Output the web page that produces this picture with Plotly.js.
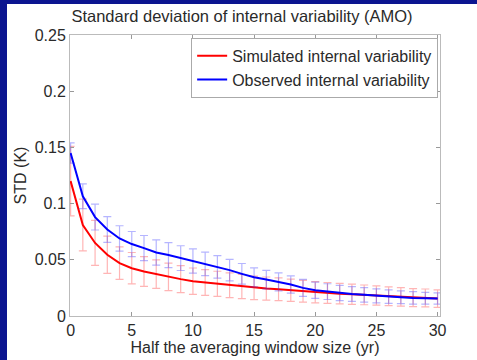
<!DOCTYPE html>
<html>
<head>
<meta charset="utf-8">
<script src="https://cdn.plot.ly/plotly-3.0.1.min.js"></script>
<style>
html,body{margin:0;padding:0;background:#0b1590;width:477px;height:360px;overflow:hidden;}
#chart{position:absolute;left:7px;top:4px;width:470px;height:356px;background:#fff;}
</style>
</head>
<body>
<div id="chart"></div>
<script>
var windowSize = [0,1,2,3,4,5,6,7,8,9,10,11,12,13,14,15,16,17,18,19,20,21,22,23,24,25,26,27,28,29,30];
var simulatedStd = [0.120,0.081,0.065,0.0545,0.047,0.0425,0.0396,0.0372,0.0348,0.0328,0.031,0.0298,0.0286,0.0274,0.0262,0.025,0.0244,0.0238,0.0229,0.022,0.0211,0.0205,0.0199,0.0193,0.0188,0.0182,0.0176,0.017,0.0164,0.0161,0.0155];
var simulatedErr = [0.031,0.023,0.020,0.0165,0.0145,0.014,0.0133,0.0127,0.0123,0.012,0.0117,0.0114,0.0112,0.011,0.0107,0.0105,0.0103,0.0101,0.0099,0.0097,0.0095,0.0093,0.0091,0.009,0.0088,0.0086,0.0084,0.0082,0.008,0.0079,0.0078];
var observedStd = [0.145,0.1065,0.088,0.077,0.069,0.064,0.0604,0.0565,0.0542,0.0515,0.049,0.0464,0.0437,0.0408,0.0375,0.0344,0.0324,0.0304,0.028,0.025,0.0229,0.0217,0.0205,0.0196,0.0188,0.0179,0.0173,0.0167,0.0161,0.0158,0.0155];
var observedErr = [0.009,0.011,0.0115,0.0115,0.0113,0.0112,0.0112,0.0112,0.0111,0.011,0.0108,0.0104,0.0100,0.0096,0.0092,0.0085,0.0082,0.008,0.0077,0.0075,0.0072,0.007,0.0068,0.0066,0.0064,0.0062,0.006,0.0057,0.0055,0.0052,0.005];
var seriesNames = ['Simulated internal variability','Observed internal variability'];
var xTicks = [0,5,10,15,20,25,30];
var yTicks = [0,0.05,0.1,0.15,0.2,0.25];
var yTickLabels = ['0','0.05','0.1','0.15','0.2','0.25'];

var traces = [
  {x: windowSize, y: simulatedStd, name: seriesNames[0], type: 'scatter', mode: 'lines',
   line: {color: '#ff0000', width: 2},
   error_y: {type: 'data', array: simulatedErr, visible: true, color: 'rgba(255,60,60,0.38)', thickness: 1.2, width: 4}},
  {x: windowSize, y: observedStd, name: seriesNames[1], type: 'scatter', mode: 'lines',
   line: {color: '#0000ff', width: 2},
   error_y: {type: 'data', array: observedErr, visible: true, color: 'rgba(60,60,255,0.38)', thickness: 1.2, width: 4}}
];

var fam = 'Liberation Sans, Arial, sans-serif';
var txt = '#2a2a2a';
var layout = {
  width: 470, height: 356,
  margin: {l: 63, r: 37, t: 31, b: 44, pad: 0},
  paper_bgcolor: '#ffffff', plot_bgcolor: '#ffffff',
  font: {family: fam, size: 16, color: txt},
  showlegend: true,
  title: {text: 'Standard deviation of internal variability (AMO)', font: {family: fam, size: 16.5, color: txt}, x: 0.5, xanchor: 'center', y: 0.981, yanchor: 'top'},
  xaxis: {range: [-0.05, 30.2], tickvals: xTicks, ticktext: xTicks.map(String), ticks: 'inside', ticklen: 4, tickcolor: '#999',
          showline: true, linecolor: '#bbb', linewidth: 1, mirror: 'ticks', showgrid: false, zeroline: false,
          tickfont: {family: fam, size: 16, color: txt},
          title: {text: 'Half the averaging window size (yr)', font: {family: fam, size: 16, color: txt}, standoff: 2}},
  yaxis: {range: [0, 0.25], tickvals: yTicks, ticktext: yTickLabels, ticks: 'inside', ticklen: 4, tickcolor: '#999',
          showline: true, linecolor: '#bbb', linewidth: 1, mirror: 'ticks', showgrid: false, zeroline: false,
          tickfont: {family: fam, size: 16, color: txt},
          title: {text: 'STD (K)', font: {family: fam, size: 16, color: txt}, standoff: 4}},
  legend: {x: 0.995, xanchor: 'right', y: 0.99, yanchor: 'top', bgcolor: '#fff', bordercolor: '#aaa', borderwidth: 1,
           font: {family: fam, size: 16, color: txt}, tracegroupgap: 0, itemwidth: 30}
};
Plotly.newPlot('chart', traces, layout, {displayModeBar: false, staticPlot: true});
</script>
</body>
</html>
